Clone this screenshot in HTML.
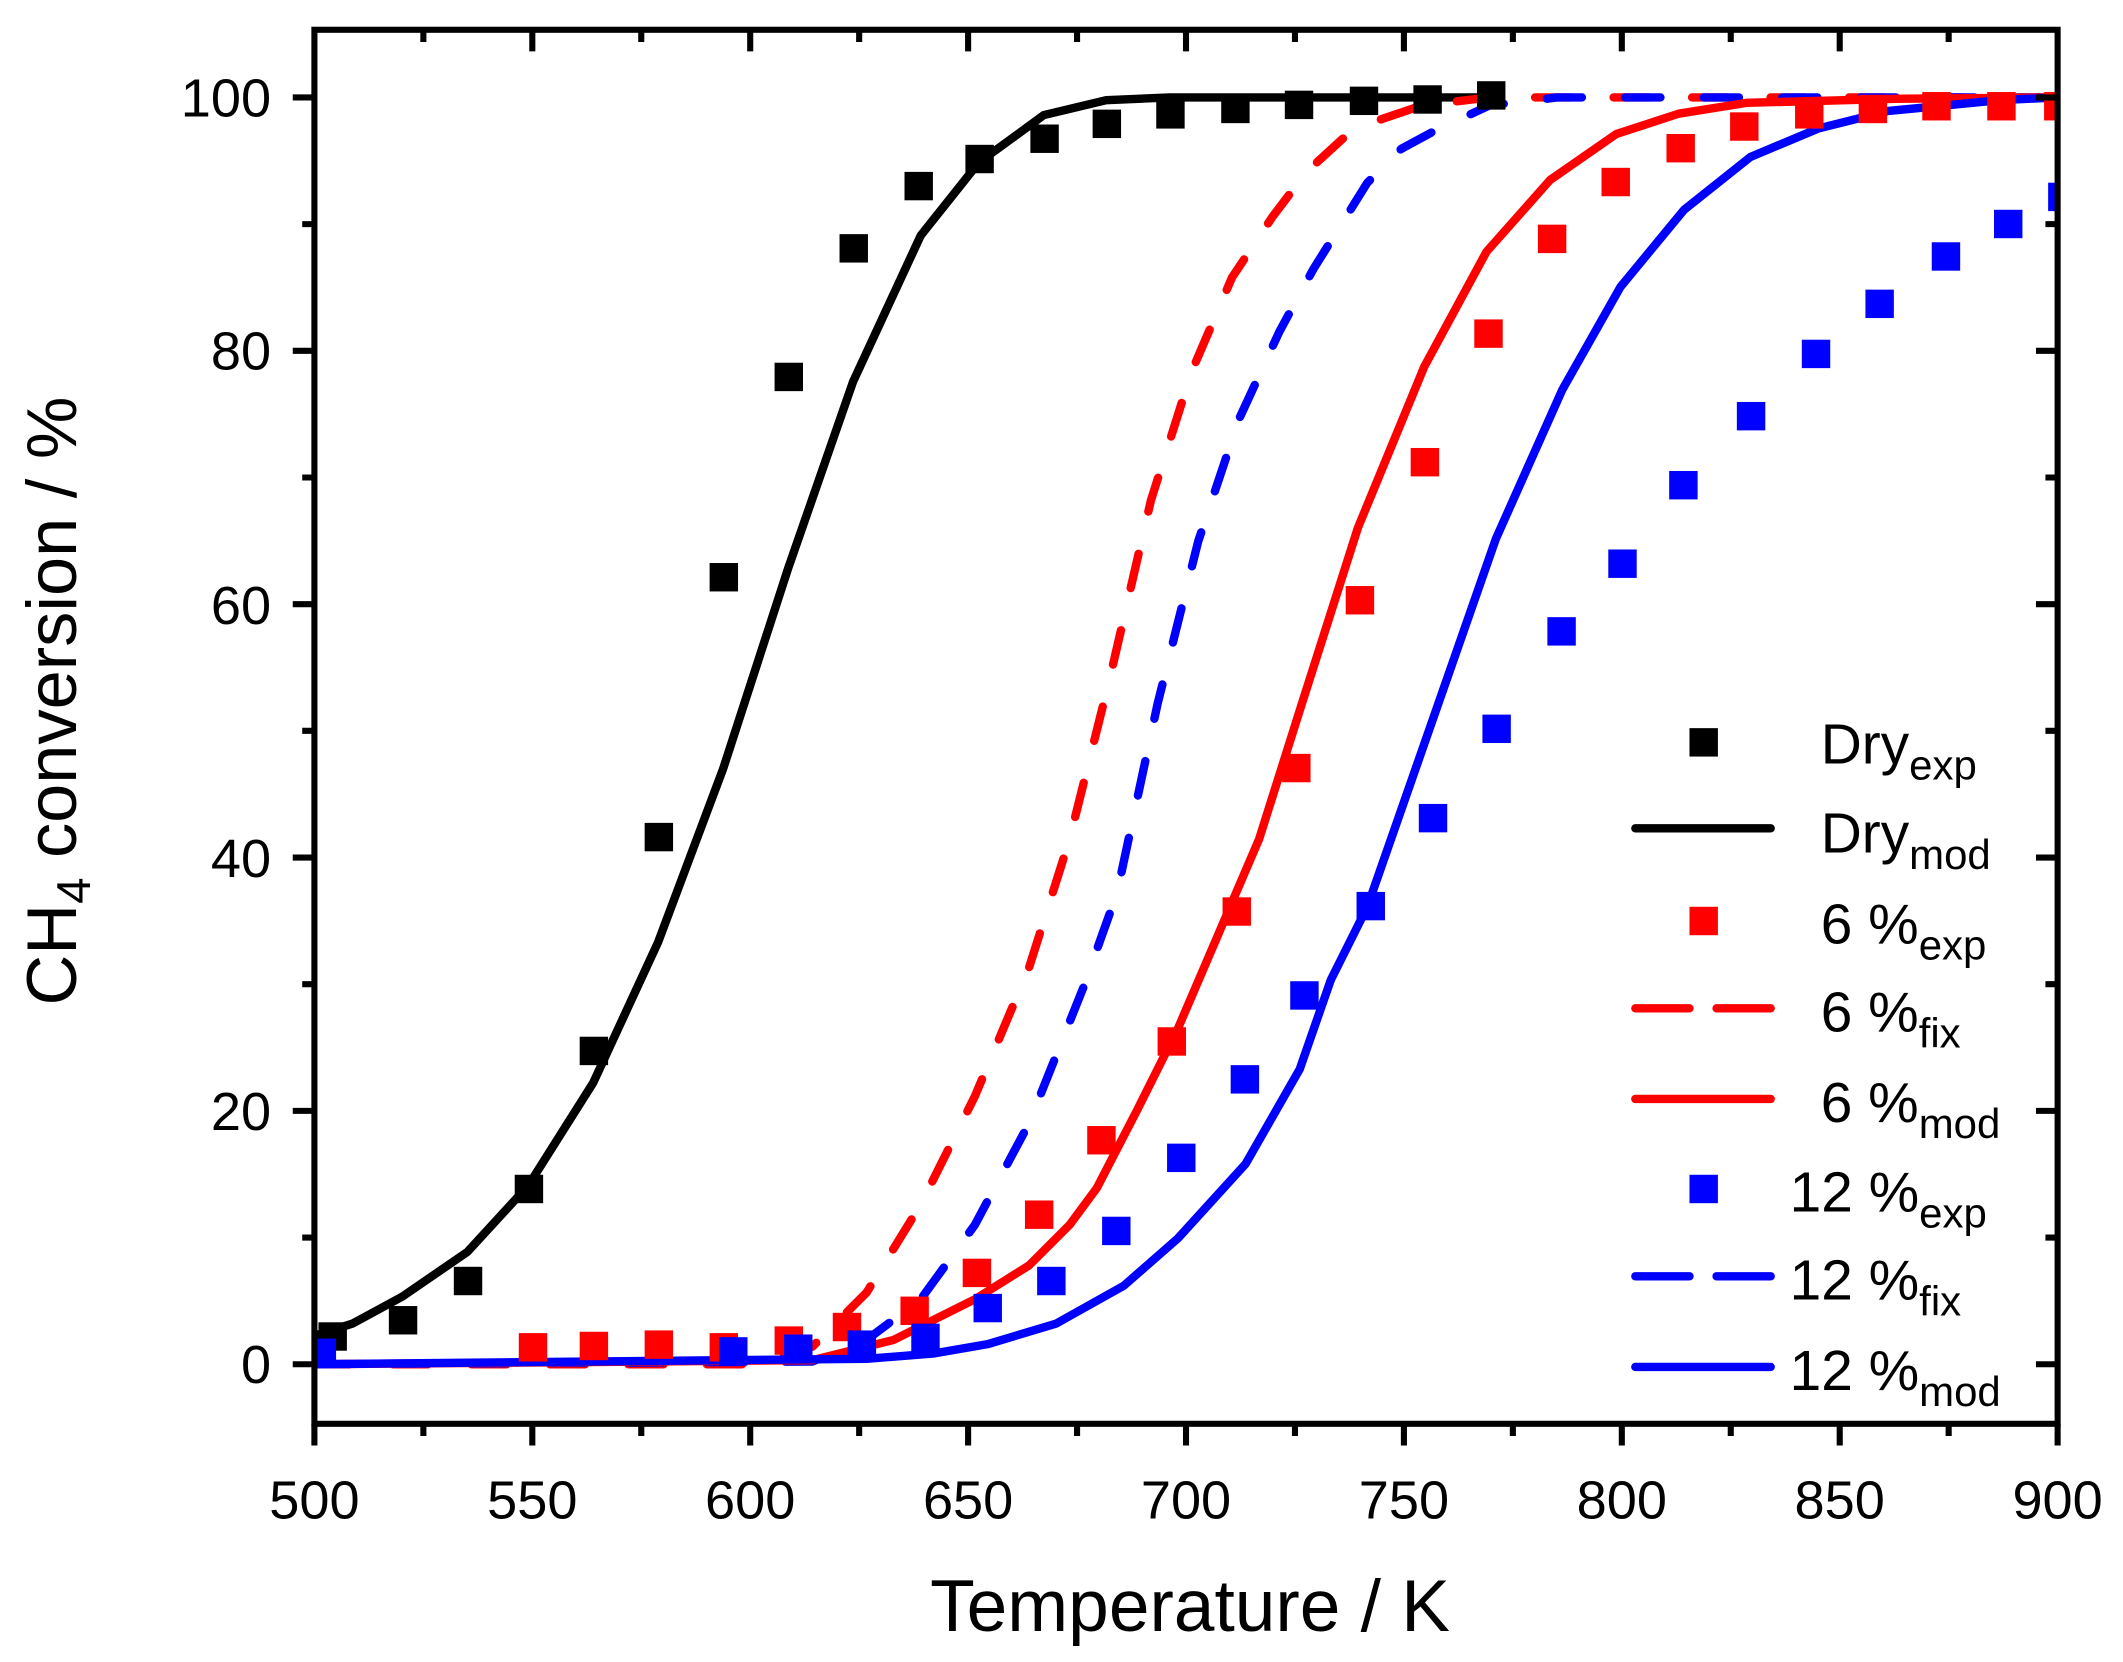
<!DOCTYPE html>
<html><head><meta charset="utf-8"><style>
html,body{margin:0;padding:0;background:#fff}
svg{display:block}
text{font-family:"Liberation Sans",Arial,sans-serif;fill:#000}
</style></head><body>
<svg width="2123" height="1662" viewBox="0 0 1568 1228" xmlns="http://www.w3.org/2000/svg">
<defs><clipPath id="c"><rect x="232" y="22" width="1288" height="1030"/></clipPath></defs>
<g clip-path="url(#c)" fill="none" stroke-width="6.2" stroke-linejoin="round" stroke-linecap="round">
<polyline stroke="#000" points="232,987 260,978 297,958 345,925 390,876 438,800 486,696 534,568 582,420 630,282 680,174 723,120 771,85 817,74 864,72 1100,72"/>
<polyline stroke="#f00" stroke-dasharray="26,32" points="232,1008 560,1008 600,995 640,955 680,890 720,810 760,715 790,620 820,500 850,370 880,275 910,205 940,160 965,127 1000,95 1050,78 1100,72 1520,72"/>
<polyline stroke="#00f" stroke-dasharray="26,32" points="232,1008 600,1006 640,990 680,960 720,905 760,830 800,730 825,660 855,520 885,400 915,310 945,245 970,199 1010,135 1035,110 1059,97 1100,78 1150,72 1520,72"/>
<polyline stroke="#f00" points="232,1008 600,1005 660,990 720,960 760,935 790,905 810,878 840,820 870,760 900,690 930,620 960,525 1003,390 1052,271 1098,186 1145,133 1194,99 1240,84 1290,76 1400,73 1520,72"/>
<polyline stroke="#00f" points="232,1008 640,1004 690,1000 730,993 780,978 830,950 870,915 920,860 960,790 983,724 1010,670 1105,398 1154,288 1197,212 1244,155 1293,116 1343,95 1395,82 1477,74 1520,72"/>
</g>
<g clip-path="url(#c)">
<g fill="#000">
<rect x="235" y="977" width="21" height="21"/><rect x="287" y="965" width="21" height="21"/><rect x="335" y="936" width="21" height="21"/><rect x="380" y="868" width="21" height="21"/><rect x="428" y="766" width="21" height="21"/><rect x="476" y="608" width="21" height="21"/><rect x="524" y="416" width="21" height="21"/><rect x="572" y="268" width="21" height="21"/><rect x="620" y="173" width="21" height="21"/><rect x="668" y="127" width="21" height="21"/><rect x="713" y="107" width="21" height="21"/><rect x="761" y="92" width="21" height="21"/><rect x="807" y="81" width="21" height="21"/><rect x="854" y="74" width="21" height="21"/><rect x="902" y="70" width="21" height="21"/><rect x="949" y="67" width="21" height="21"/><rect x="997" y="64" width="21" height="21"/><rect x="1044" y="63" width="21" height="21"/><rect x="1091" y="60" width="21" height="21"/>
</g>
<g fill="#f00">
<rect x="383" y="985" width="21" height="21"/><rect x="428" y="984" width="21" height="21"/><rect x="476" y="983" width="21" height="21"/><rect x="524" y="985" width="21" height="21"/><rect x="572" y="980" width="21" height="21"/><rect x="615" y="970" width="21" height="21"/><rect x="665" y="958" width="21" height="21"/><rect x="711" y="930" width="21" height="21"/><rect x="757" y="887" width="21" height="21"/><rect x="803" y="832" width="21" height="21"/><rect x="855" y="759" width="21" height="21"/><rect x="903" y="663" width="21" height="21"/><rect x="947" y="557" width="21" height="21"/><rect x="994" y="433" width="21" height="21"/><rect x="1042" y="331" width="21" height="21"/><rect x="1089" y="236" width="21" height="21"/><rect x="1136" y="166" width="21" height="21"/><rect x="1183" y="124" width="21" height="21"/><rect x="1231" y="99" width="21" height="21"/><rect x="1278" y="83" width="21" height="21"/><rect x="1326" y="74" width="21" height="21"/><rect x="1373" y="70" width="21" height="21"/><rect x="1420" y="68" width="21" height="21"/><rect x="1468" y="68" width="21" height="21"/><rect x="1510" y="68" width="21" height="21"/>
</g>
<g fill="#00f">
<rect x="227" y="989" width="21" height="21"/><rect x="531" y="988" width="21" height="21"/><rect x="579" y="986" width="21" height="21"/><rect x="626" y="983" width="21" height="21"/><rect x="673" y="978" width="21" height="21"/><rect x="719" y="956" width="21" height="21"/><rect x="766" y="936" width="21" height="21"/><rect x="814" y="899" width="21" height="21"/><rect x="862" y="845" width="21" height="21"/><rect x="909" y="787" width="21" height="21"/><rect x="953" y="725" width="21" height="21"/><rect x="1002" y="659" width="21" height="21"/><rect x="1048" y="594" width="21" height="21"/><rect x="1095" y="528" width="21" height="21"/><rect x="1143" y="456" width="21" height="21"/><rect x="1188" y="406" width="21" height="21"/><rect x="1233" y="348" width="21" height="21"/><rect x="1283" y="297" width="21" height="21"/><rect x="1331" y="251" width="21" height="21"/><rect x="1378" y="214" width="21" height="21"/><rect x="1427" y="179" width="21" height="21"/><rect x="1473" y="155" width="21" height="21"/><rect x="1513" y="135" width="21" height="21"/>
</g>
</g>
<rect x="232" y="22" width="1288" height="1030" fill="none" stroke="#000" stroke-width="4.5"/>
<g stroke="#000" stroke-width="4.5">
<path d="M232,1052v16M393,1052v16M554,1052v16M715,1052v16M876,1052v16M1037,1052v16M1198,1052v16M1359,1052v16M1520,1052v16"/>
<path d="M312.5,1052v9M473.5,1052v9M634.5,1052v9M795.5,1052v9M956.5,1052v9M1117.5,1052v9M1278.5,1052v9M1439.5,1052v9"/>
<path d="M393,22v16M554,22v16M715,22v16M876,22v16M1037,22v16M1198,22v16M1359,22v16"/>
<path d="M312.5,22v9M473.5,22v9M634.5,22v9M795.5,22v9M956.5,22v9M1117.5,22v9M1278.5,22v9M1439.5,22v9"/>
<path d="M232,1008h-16M232,820.8h-16M232,633.6h-16M232,446.4h-16M232,259.2h-16M232,72h-16"/>
<path d="M232,914.4h-9M232,727.2h-9M232,540h-9M232,352.8h-9M232,165.6h-9"/>
<path d="M1520,1008h-16M1520,820.8h-16M1520,633.6h-16M1520,446.4h-16M1520,259.2h-16M1520,72h-16"/>
<path d="M1520,914.4h-9M1520,727.2h-9M1520,540h-9M1520,352.8h-9M1520,165.6h-9"/>
</g>
<g font-size="40" text-anchor="middle">
<text x="232" y="1122">500</text><text x="393" y="1122">550</text><text x="554" y="1122">600</text><text x="715" y="1122">650</text><text x="876" y="1122">700</text><text x="1037" y="1122">750</text><text x="1198" y="1122">800</text><text x="1359" y="1122">850</text><text x="1520" y="1122">900</text>
</g>
<g font-size="40" text-anchor="end">
<text x="200" y="1022">0</text><text x="200" y="835">20</text><text x="200" y="648">40</text><text x="200" y="461">60</text><text x="200" y="273">80</text><text x="200" y="86">100</text>
</g>
<text x="879" y="1205" font-size="54" text-anchor="middle">Temperature / K</text>
<text transform="translate(56,518) rotate(-90)" font-size="52" text-anchor="middle">CH<tspan font-size="35" dy="10">4</tspan><tspan dy="-10"> conversion / %</tspan></text>
<g stroke-width="6.2" stroke-linecap="round" fill="none">
<line x1="1208" y1="612" x2="1308" y2="612" stroke="#000"/>
<line x1="1208" y1="745" x2="1308" y2="745" stroke="#f00" stroke-dasharray="40,20"/>
<line x1="1208" y1="812" x2="1308" y2="812" stroke="#f00"/>
<line x1="1208" y1="943" x2="1308" y2="943" stroke="#00f" stroke-dasharray="40,20"/>
<line x1="1208" y1="1010" x2="1308" y2="1010" stroke="#00f"/>
</g>
<rect x="1248" y="538" width="21" height="21" fill="#000"/>
<rect x="1248" y="670" width="21" height="21" fill="#f00"/>
<rect x="1248" y="868" width="21" height="21" fill="#00f"/>
<g font-size="42">
<text x="1345" y="564">Dry<tspan font-size="31" dy="12">exp</tspan></text>
<text x="1345" y="630">Dry<tspan font-size="31" dy="12">mod</tspan></text>
<text x="1345" y="697">6 %<tspan font-size="31" dy="12">exp</tspan></text>
<text x="1345" y="762">6 %<tspan font-size="31" dy="12">fix</tspan></text>
<text x="1345" y="829">6 %<tspan font-size="31" dy="12">mod</tspan></text>
<text x="1322" y="895">12 %<tspan font-size="31" dy="12">exp</tspan></text>
<text x="1322" y="960">12 %<tspan font-size="31" dy="12">fix</tspan></text>
<text x="1322" y="1027">12 %<tspan font-size="31" dy="12">mod</tspan></text>
</g>
</svg>
</body></html>
